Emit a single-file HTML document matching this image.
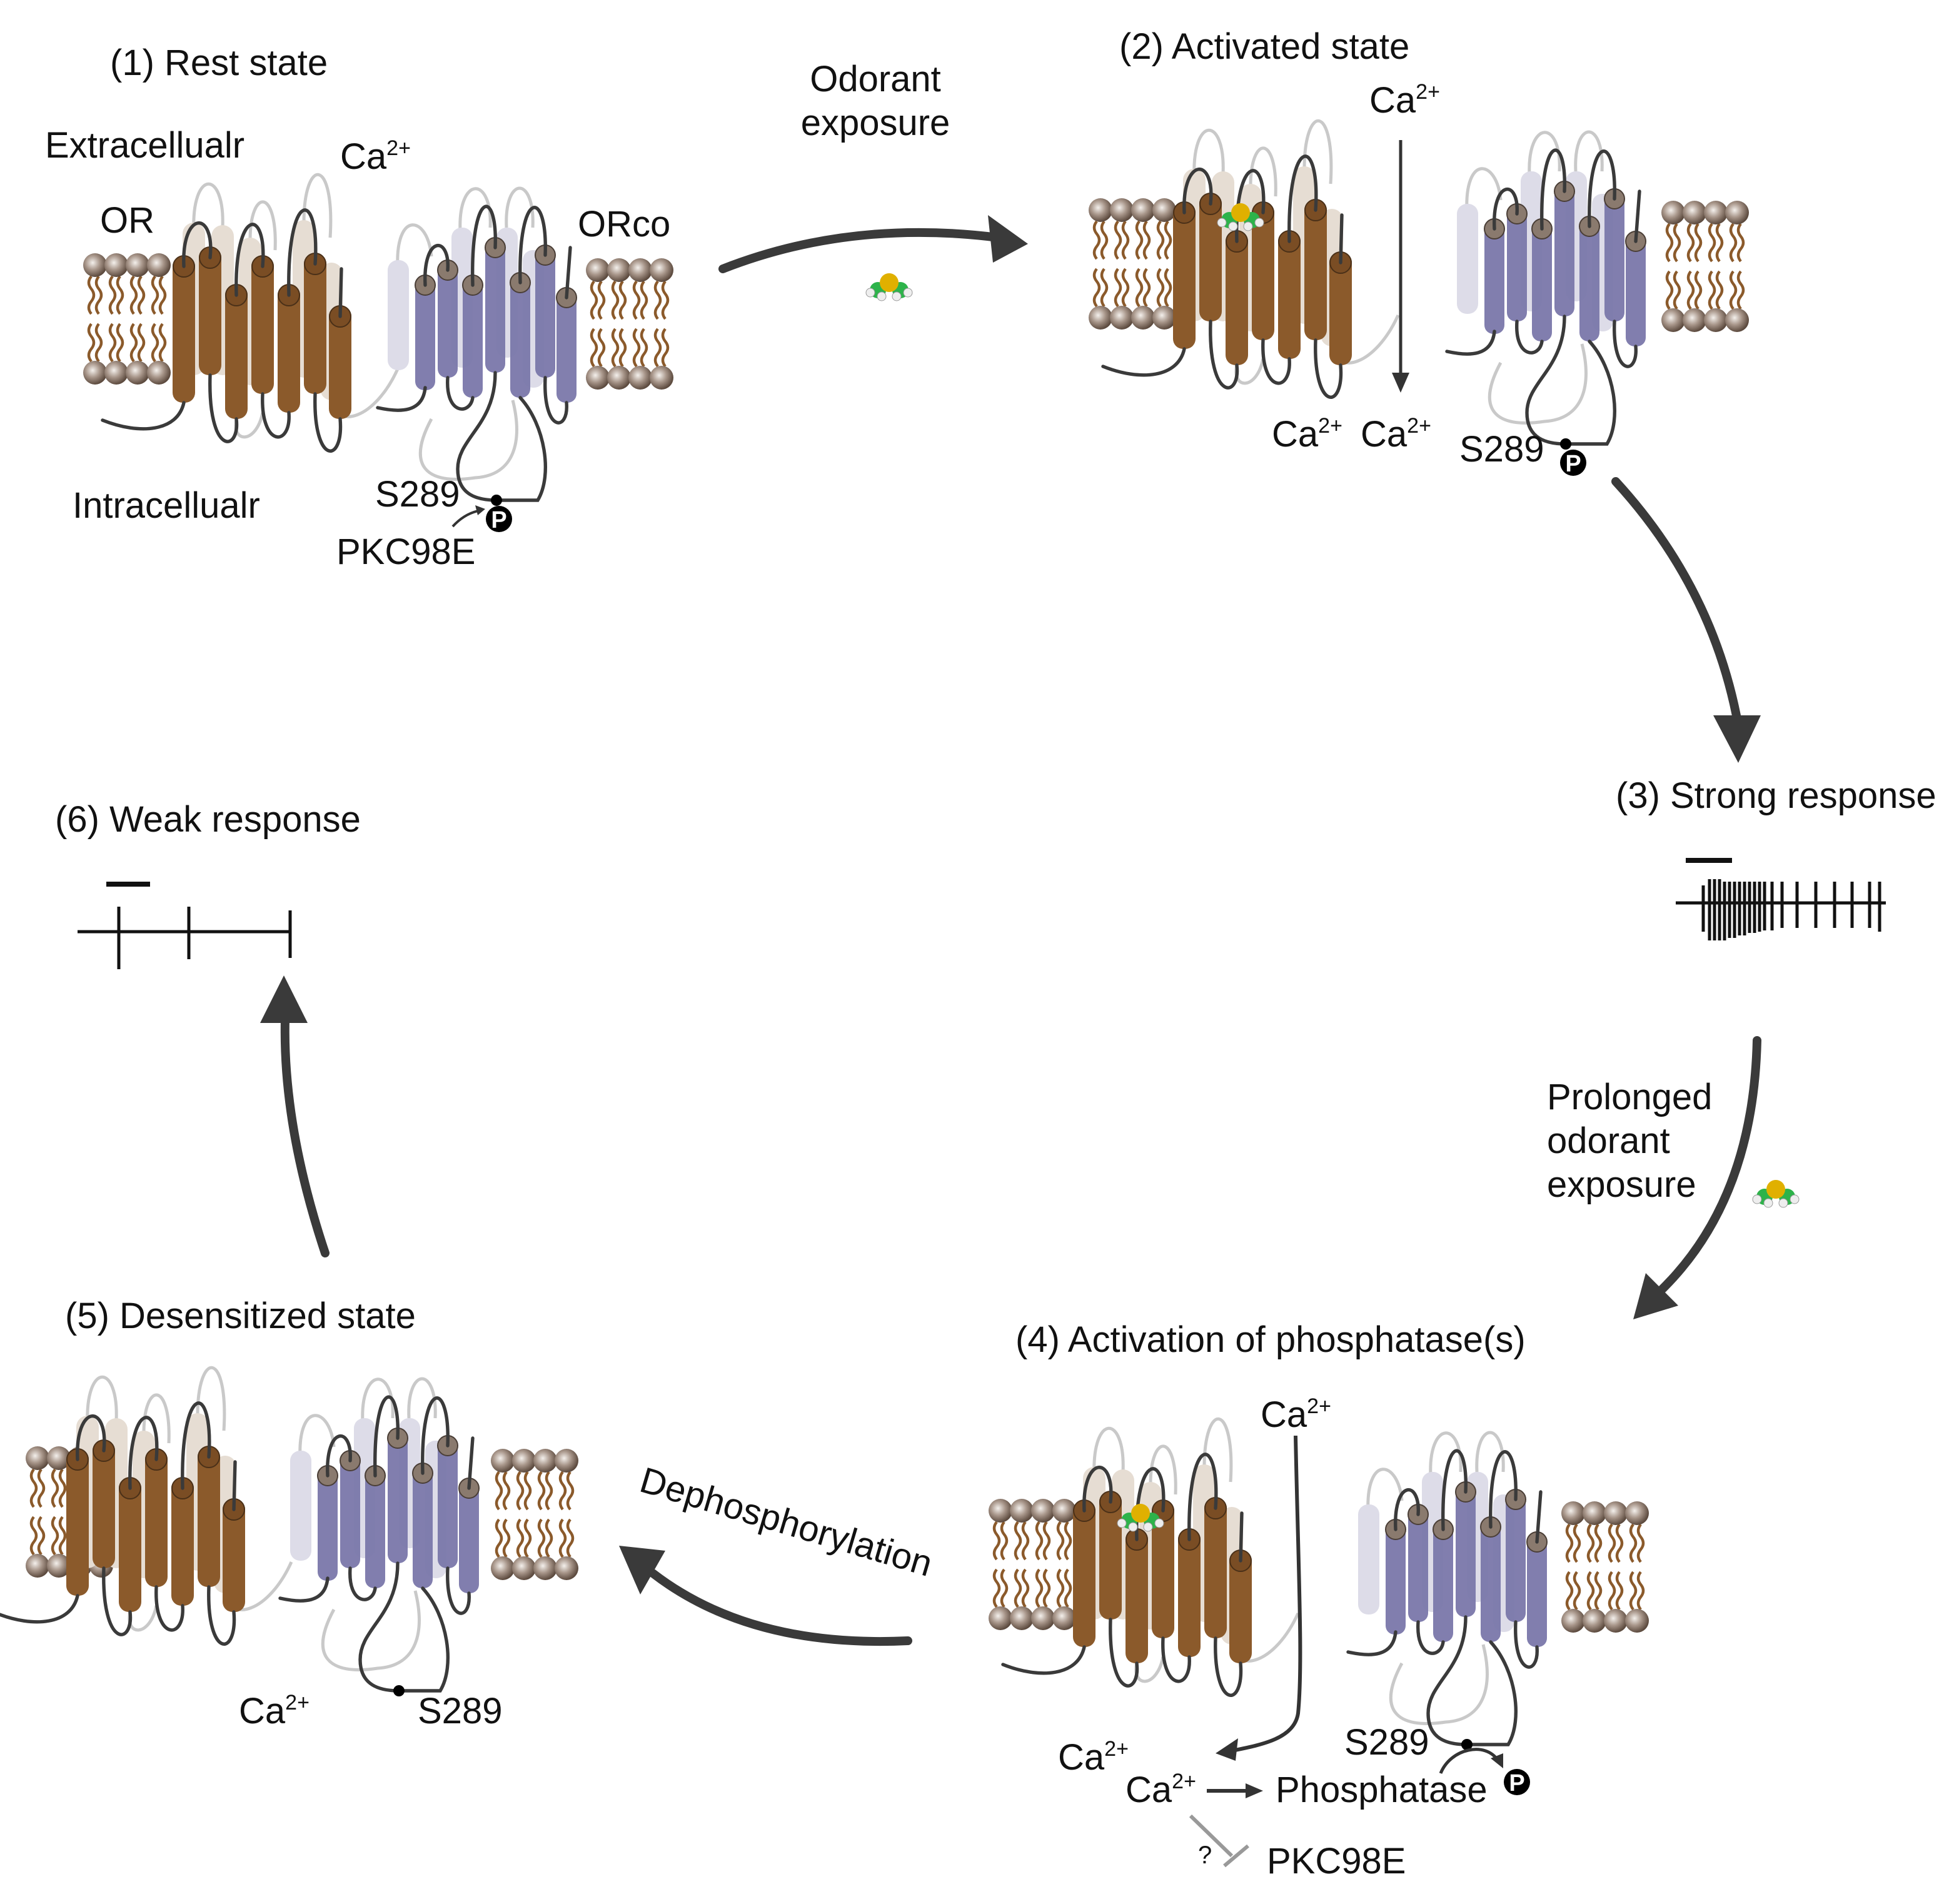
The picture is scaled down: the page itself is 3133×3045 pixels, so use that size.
<!DOCTYPE html>
<html><head><meta charset="utf-8"><style>
html,body{margin:0;padding:0;background:#fff}
svg{display:block}
text{font-family:"Liberation Sans",Arial,sans-serif;fill:#111}
</style></head><body>
<svg width="3133" height="3045" viewBox="0 0 1566.5 1522.5" xmlns="http://www.w3.org/2000/svg">
<defs>
<radialGradient id="hg" cx="40%" cy="40%" r="60%"><stop offset="0" stop-color="#f4f0ec"/><stop offset="0.5" stop-color="#a8968a"/><stop offset="1" stop-color="#5c4a3e"/></radialGradient>
<g id="mem">
 <g fill="none" stroke="#8b5a2b" stroke-width="2.2">
  <path id="tl" d="M-3,9 q-4,5 0,10 t0,10 t0,10 M3,9 q-4,5 0,10 t0,10 t0,10"/>
  <use href="#tl" x="17"/><use href="#tl" x="34"/><use href="#tl" x="51"/>
  <use href="#tl" y="38"/><use href="#tl" x="17" y="38"/><use href="#tl" x="34" y="38"/><use href="#tl" x="51" y="38"/>
 </g>
 <g fill="url(#hg)">
  <circle cx="0" cy="0" r="9.5"/><circle cx="17" cy="0" r="9.5"/><circle cx="34" cy="0" r="9.5"/><circle cx="51" cy="0" r="9.5"/>
  <circle cx="0" cy="86" r="9.5"/><circle cx="17" cy="86" r="9.5"/><circle cx="34" cy="86" r="9.5"/><circle cx="51" cy="86" r="9.5"/>
 </g>
</g>
<g id="or">
 <g fill="none" stroke="#c9c9c9" stroke-width="2.5">
  <path d="M155,185 C153,135 180,135 178,182"/>
  <path d="M200,192 C200,150 222,150 220,200"/>
  <path d="M243,178 C243,125 268,125 264,190"/>
  <path d="M265,318 C268,345 300,335 318,295"/>
  <path d="M189,335 C185,355 205,355 210,330"/>
 </g>
 <g fill="#e6ddd3">
  <rect x="146" y="178" width="18" height="122" rx="9"/>
  <rect x="169" y="180" width="18" height="120" rx="9"/>
  <rect x="191" y="190" width="18" height="118" rx="9"/>
  <rect x="234" y="176" width="18" height="126" rx="9"/>
  <rect x="256" y="210" width="18" height="110" rx="9"/>
 </g>
 <g fill="#8b5a2b">
  <rect x="138" y="205" width="18" height="117" rx="8"/>
  <rect x="159" y="198" width="18" height="102" rx="8"/>
  <rect x="180" y="228" width="18" height="107" rx="8"/>
  <rect x="201" y="205" width="18" height="110" rx="8"/>
  <rect x="222" y="228" width="18" height="102" rx="8"/>
  <rect x="243" y="203" width="18" height="112" rx="8"/>
  <rect x="263" y="245" width="18" height="90" rx="8"/>
 </g>
 <g fill="#7a4d24" stroke="#4a3018" stroke-width="1">
  <circle cx="147" cy="213" r="8.5"/><circle cx="168" cy="206" r="8.5"/><circle cx="189" cy="236" r="8.5"/><circle cx="210" cy="213" r="8.5"/><circle cx="231" cy="236" r="8.5"/><circle cx="252" cy="211" r="8.5"/><circle cx="272" cy="253" r="8.5"/>
 </g>
 <g fill="none" stroke="#3a3a3a" stroke-width="2.7" stroke-linecap="round">
  <path d="M147,213 C145,168 172,168 168,206"/>
  <path d="M189,236 C187,165 214,165 210,213"/>
  <path d="M231,236 C229,150 256,150 252,211"/>
  <path d="M272,253 L273,215"/>
  <path d="M168,300 C166,365 192,362 189,335"/>
  <path d="M210,315 C208,358 233,358 231,330"/>
  <path d="M252,315 C250,372 275,372 272,335"/>
  <path d="M147,322 C142,345 112,348 82,336"/>
 </g>
</g>
<g id="orco">
 <g fill="none" stroke="#c9c9c9" stroke-width="2.5">
  <path d="M318,214 C316,168 342,172 345,205"/>
  <path d="M368,185 C366,140 394,140 392,182"/>
  <path d="M405,182 C403,140 428,140 426,182"/>
  <path d="M345,335 C325,372 340,388 380,382 C412,380 418,352 410,320"/>
 </g>
 <g fill="#dddce8">
  <rect x="310" y="208" width="17" height="88" rx="8"/>
  <rect x="361" y="182" width="17" height="112" rx="8"/>
  <rect x="397" y="182" width="17" height="104" rx="8"/>
  <rect x="418" y="200" width="17" height="110" rx="8"/>
 </g>
 <g fill="#7b78aa" opacity="0.95">
  <rect x="332" y="222" width="16" height="90" rx="7"/>
  <rect x="350" y="210" width="16" height="92" rx="7"/>
  <rect x="370" y="222" width="16" height="96" rx="7"/>
  <rect x="388" y="192" width="16" height="106" rx="7"/>
  <rect x="408" y="220" width="16" height="98" rx="7"/>
  <rect x="428" y="198" width="16" height="104" rx="7"/>
  <rect x="445" y="232" width="16" height="90" rx="7"/>
 </g>
 <g fill="#8a7a6e" stroke="#4a3e36" stroke-width="1">
  <circle cx="340" cy="228" r="8"/><circle cx="358" cy="216" r="8"/><circle cx="378" cy="228" r="8"/><circle cx="396" cy="198" r="8"/><circle cx="416" cy="226" r="8"/><circle cx="436" cy="204" r="8"/><circle cx="453" cy="238" r="8"/>
 </g>
 <g fill="none" stroke="#3a3a3a" stroke-width="2.7" stroke-linecap="round">
  <path d="M340,228 C338,188 360,188 358,216"/>
  <path d="M378,228 C376,150 398,150 396,198"/>
  <path d="M416,226 C414,150 438,150 436,204"/>
  <path d="M453,238 L456,198"/>
  <path d="M340,310 C338,330 320,330 302,326"/>
  <path d="M358,302 C356,332 376,332 378,318"/>
  <path d="M396,298 C396,340 366,350 366,375 C366,396 382,400 397,400 L430,400 C442,380 436,340 416,318"/>
  <path d="M436,302 C434,346 455,346 453,322"/>
 </g>
 <circle cx="397" cy="400" r="4.5" fill="#000"/>
</g>
<g id="odor">
 <circle cx="-9" cy="4" r="6.5" fill="#2db34a"/><circle cx="9" cy="4" r="6.5" fill="#2db34a"/>
 <circle cx="-15" cy="6" r="3.5" fill="#eee" stroke="#999" stroke-width="0.5"/><circle cx="15" cy="6" r="3.5" fill="#eee" stroke="#999" stroke-width="0.5"/>
 <circle cx="-6" cy="9" r="3.5" fill="#eee" stroke="#999" stroke-width="0.5"/><circle cx="6" cy="9" r="3.5" fill="#eee" stroke="#999" stroke-width="0.5"/>
 <circle cx="0" cy="-2" r="7.5" fill="#e0b000"/>
</g>
<g id="P"><circle r="10.5" fill="#000"/><text x="0" y="7" text-anchor="middle" font-size="19" font-weight="bold" style="fill:#fff">P</text></g>
</defs>

<!-- Panel 1 -->
<use href="#mem" x="76" y="212"/><use href="#mem" x="478" y="216"/>
<use href="#or"/><use href="#orco"/>
<use href="#P" x="399" y="415"/>
<path d="M362,421 Q372,410 385,408" fill="none" stroke="#333" stroke-width="2"/>
<path d="M388,407 l-8,-3 l2,8z" fill="#333"/>

<!-- Panel 2 -->
<use href="#mem" x="880" y="168"/><use href="#mem" x="1338" y="170"/>
<use href="#or" transform="translate(800,-43)"/><use href="#orco" transform="translate(855,-45)"/>
<use href="#odor" x="992" y="172"/>
<use href="#P" x="1258" y="370"/>
<path d="M1120,112 L1120,300" stroke="#333" stroke-width="2.5"/>
<path d="M1113,298 L1127,298 L1120,314z" fill="#333"/>

<!-- Panel 4 -->
<use href="#mem" x="800" y="1208"/><use href="#mem" x="1258" y="1210"/>
<use href="#or" transform="translate(720,995)"/><use href="#orco" transform="translate(776,995)"/>
<use href="#odor" x="912" y="1212"/>
<use href="#P" x="1213" y="1425"/>
<path d="M1036,1148 C1038,1250 1042,1330 1038,1370 C1035,1390 1010,1395 985,1400" fill="none" stroke="#333" stroke-width="3"/>
<path d="M972,1402 L990,1390 L988,1408z" fill="#333"/>
<path d="M1152,1418 C1160,1398 1188,1392 1198,1408" fill="none" stroke="#333" stroke-width="2.5"/>
<path d="M1202,1414 L1192,1406 L1202,1402z" fill="#333"/>
<path d="M965,1432 L998,1432" stroke="#333" stroke-width="3"/>
<path d="M996,1426 L1010,1432 L996,1438z" fill="#333"/>
<path d="M952,1452 L985,1484" stroke="#999" stroke-width="3"/>
<path d="M979,1492 L998,1476" stroke="#999" stroke-width="3"/>

<!-- Panel 5 -->
<use href="#mem" x="30" y="1166"/><use href="#mem" x="402" y="1168"/>
<use href="#or" transform="translate(-85,954)"/><use href="#orco" transform="translate(-78,952)"/>

<!-- standalone odorants -->
<use href="#odor" x="711" y="228"/>
<use href="#odor" x="1420" y="953"/>

<!-- big arrows -->
<g fill="none" stroke="#3a3a3a" stroke-width="7" stroke-linecap="round">
 <path d="M578,215 Q680,175 798,190"/>
 <path d="M1292,385 Q1370,470 1390,580"/>
 <path d="M1405,832 Q1402,960 1328,1032"/>
 <path d="M726,1312 Q600,1318 522,1258"/>
 <path d="M260,1002 Q226,900 228,815"/>
</g>
<g fill="#3a3a3a">
 <path d="M822,195 L790,172 L794,210z"/>
 <path d="M1390,610 L1370,572 L1408,572z"/>
 <path d="M1306,1055 L1316,1018 L1342,1044z"/>
 <path d="M495,1236 L532,1240 L512,1275z"/>
 <path d="M227,780 L208,818 L246,818z"/>
</g>

<!-- spike trains -->
<g stroke="#111" stroke-width="2.5">
 <line x1="1340" y1="722" x2="1508" y2="722"/>
 <line x1="1348" y1="688" x2="1385" y2="688" stroke-width="4"/>
 <path d="M1362,708V745 M1367,703V752 M1371,703V752 M1375,703V752 M1379,705V752 M1383,705V750 M1387,705V750 M1391,705V748 M1395,705V748 M1399,705V746 M1403,705V746 M1407,705V745 M1411,705V744 M1417,705V744 M1425,705V742 M1437,705V742 M1452,705V742 M1467,705V742 M1481,705V742 M1495,705V742 M1503,705V745"/>
 <line x1="62" y1="745" x2="232" y2="745"/>
 <line x1="85" y1="707" x2="120" y2="707" stroke-width="4"/>
 <path d="M95,725V775 M151,725V767 M232,728V766"/>
</g>

<!-- text -->
<g font-size="29">
 <text x="88" y="60">(1) Rest state</text>
 <text x="36" y="126">Extracellualr</text>
 <text x="272" y="135">Ca<tspan font-size="17" dy="-11">2+</tspan></text>
 <text x="80" y="186">OR</text>
 <text x="462" y="189">ORco</text>
 <text x="58" y="414">Intracellualr</text>
 <text x="300" y="405">S289</text>
 <text x="269" y="451">PKC98E</text>
 <text x="700" y="73" text-anchor="middle">Odorant</text>
 <text x="700" y="108" text-anchor="middle">exposure</text>
 <text x="895" y="47">(2) Activated state</text>
 <text x="1095" y="90">Ca<tspan font-size="17" dy="-11">2+</tspan></text>
 <text x="1017" y="357">Ca<tspan font-size="17" dy="-11">2+</tspan></text>
 <text x="1088" y="357">Ca<tspan font-size="17" dy="-11">2+</tspan></text>
 <text x="1167" y="369">S289</text>
 <text x="1292" y="646">(3) Strong response</text>
 <text x="1237" y="887">Prolonged</text>
 <text x="1237" y="922">odorant</text>
 <text x="1237" y="957">exposure</text>
 <text x="812" y="1081">(4) Activation of phosphatase(s)</text>
 <text x="1008" y="1141">Ca<tspan font-size="17" dy="-11">2+</tspan></text>
 <text x="846" y="1415">Ca<tspan font-size="17" dy="-11">2+</tspan></text>
 <text x="900" y="1441">Ca<tspan font-size="17" dy="-11">2+</tspan></text>
 <text x="1020" y="1441">Phosphatase</text>
 <text x="1075" y="1403">S289</text>
 <text x="1013" y="1498">PKC98E</text>
 <text x="958" y="1490" font-size="20">?</text>
 <text x="52" y="1062">(5) Desensitized state</text>
 <text x="191" y="1378">Ca<tspan font-size="17" dy="-11">2+</tspan></text>
 <text x="334" y="1378">S289</text>
 <text x="44" y="665">(6) Weak response</text>
 <text x="0" y="0" transform="translate(510,1192) rotate(16.5)">Dephosphorylation</text>
</g>
</svg>
</body></html>
